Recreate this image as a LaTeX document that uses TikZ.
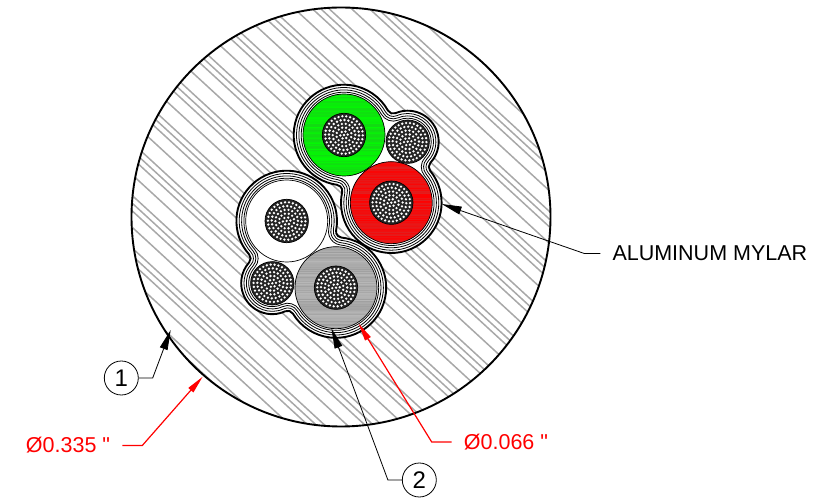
\documentclass[tikz,border=0pt]{standalone}
\usepackage{fontspec}
\newfontfamily\lblfont{Liberation Sans}
\usetikzlibrary{arrows.meta,calc}
\definecolor{hatchgray}{gray}{0.66}
\definecolor{redlead}{RGB}{255,0,0}
\definecolor{grayA}{gray}{0.72}
\definecolor{grayB}{gray}{0.62}
\definecolor{greenA}{RGB}{0,255,0}
\definecolor{greenB}{RGB}{20,215,20}
\definecolor{redA}{RGB}{255,0,0}
\definecolor{redB}{RGB}{225,30,30}
\def\DD{9.3}
\def\Rz{6}
\newcommand\mkF[7]{%
 \pgfmathsetmacro\Lc{veclen(#5-#2,#6-#3)}%
 \pgfmathsetmacro\tA{#4+\DD+\Rz}%
 \pgfmathsetmacro\tB{#7+\DD+\Rz}%
 \pgfmathsetmacro\xx{(\Lc*\Lc+\tA*\tA-\tB*\tB)/(2*\Lc)}%
 \pgfmathsetmacro\hh{sqrt(\tA*\tA-\xx*\xx)}%
 \pgfmathsetmacro\ux{(#5-#2)/\Lc}%
 \pgfmathsetmacro\uy{(#6-#3)/\Lc}%
 \pgfmathsetmacro\Fx{#2+\xx*\ux-\hh*\uy}%
 \pgfmathsetmacro\Fy{#3+\xx*\uy+\hh*\ux}%
 \pgfmathsetmacro\aone{atan2(\Fy-#3,\Fx-#2)}%
 \pgfmathsetmacro\atwo{atan2(\Fy-#6,\Fx-#5)}%
 \expandafter\xdef\csname #1first\endcsname{\aone}%
 \expandafter\xdef\csname #1second\endcsname{\atwo}%
 \pgfmathsetmacro\sd{Mod(\atwo-\aone,360)}%
 \pgfmathsetmacro\ss{\aone+180}%
 \expandafter\xdef\csname #1S\endcsname{\ss}%
 \expandafter\xdef\csname #1D\endcsname{\sd}%
}
\newcommand\setpath[1]{%
 \mkF{fab}{\ax}{\ay}{\ar}{\bx}{\by}{\br}%
 \mkF{fbc}{\bx}{\by}{\br}{\cx}{\cy}{\cr}%
 \mkF{fca}{\cx}{\cy}{\cr}{\ax}{\ay}{\ar}%
 \pgfmathsetmacro\aD{-Mod(\fcasecond-\fabfirst,360)}%
 \pgfmathsetmacro\bD{-Mod(\fabsecond-\fbcfirst,360)}%
 \pgfmathsetmacro\cD{-Mod(\fbcsecond-\fcafirst,360)}%
 \expandafter\xdef\csname P#1\endcsname##1{%
  ({\ax+(\ar+##1)*cos(\fcasecond)},{\ay+(\ar+##1)*sin(\fcasecond)})
  arc[start angle=\fcasecond,delta angle=\aD,radius={(\ar+##1)*1pt}]
  arc[start angle=\fabS,delta angle=\fabD,radius={(\Rz+\DD-##1)*1pt}]
  arc[start angle=\fabsecond,delta angle=\bD,radius={(\br+##1)*1pt}]
  arc[start angle=\fbcS,delta angle=\fbcD,radius={(\Rz+\DD-##1)*1pt}]
  arc[start angle=\fbcsecond,delta angle=\cD,radius={(\cr+##1)*1pt}]
  arc[start angle=\fcaS,delta angle=\fcaD,radius={(\Rz+\DD-##1)*1pt}]
  -- cycle}%
}
\newcommand\cablecore[2]{%
 \fill[black!85] (#1,#2) circle[radius=21.7pt];
 \draw[black,line width=0.7pt] (#1,#2) circle[radius=21.7pt];
 \fill[white] (#1,#2) circle[radius=1.3pt];
 \foreach \rr/\nn in {1/6,2/12,3/18,4/24,5/30}{%
  \pgfmathsetmacro\stepang{360/\nn}%
  \foreach \k in {1,...,\nn}{%
   \fill[white] ({#1+\rr*3.75*cos(\k*\stepang+7*\rr)},{#2+\rr*3.75*sin(\k*\stepang+7*\rr)}) circle[radius=1.3pt];
  }%
 }%
}
\newcommand\insul[4]{%
 \begin{scope}
  \clip (#1,#2) circle[radius=41pt];
  \fill[#3] (#1,#2) circle[radius=41pt];
  \foreach \yy in {-41,-40,...,41}{%
   \pgfmathtruncatemacro\mm{rnd*100}%
   \draw[line width=1pt,#3!\mm!#4] ({#1-42},{#2+\yy}) -- ({#1+42},{#2+\yy});
  }%
 \end{scope}
 \draw[black,line width=0.7pt] (#1,#2) circle[radius=41pt];
}
\newcommand\jacket[1]{%
 \fill[white] \csname P#1\endcsname{9.3};
 \draw[black,line width=1.9pt] \csname P#1\endcsname{9.3};
 \draw[black,line width=0.8pt] \csname P#1\endcsname{6.5};
 \draw[black,line width=0.8pt] \csname P#1\endcsname{4.1};
 \draw[black,line width=0.8pt] \csname P#1\endcsname{1.8};
}
\tikzset{
 lbl/.style={font=\lblfont\fontsize{21.5}{24}\selectfont,inner ysep=0pt,inner xsep=12pt},
 balloon/.style={draw=black,circle,line width=0.8pt,minimum size=34pt,inner sep=0pt,fill=white,font=\lblfont\fontsize{24}{26}\selectfont},
 blk/.style={black,line width=0.8pt,-{Triangle[length=20pt,width=8pt]}},
 redl/.style={redlead,line width=1.2pt,-{Triangle[length=18pt,width=6.5pt]}},
 hatchl/.style={hatchgray,line width=1.5pt}
}
\begin{document}
\begin{tikzpicture}[x=1pt,y=1pt]
\useasboundingbox (0,0) rectangle (825,498);
\pgfmathsetseed{11}
% outer jacket with hatch
\begin{scope}
 \clip (341,281) circle[radius=209.5pt];
 \foreach \kk in {-9,...,6}{%
  \pgfmathsetmacro\cs{0.6+52.55*\kk}%
  \pgfmathsetmacro\ct{29+52.55*\kk}%
  \foreach \cc in {\cs,\ct-7.7,\ct,\ct+7.7}{%
   \pgfmathsetmacro\cv{\cc}%
   \draw[hatchl] (100,{498-0.92*100-\cv}) -- (600,{498-0.92*600-\cv});
  }%
 }%
\end{scope}
\draw[black,line width=1.9pt] (341,281) circle[radius=209.5pt];
% top group
\def\ax{344}\def\ay{363}\def\ar{41}
\def\bx{407.7}\def\by{356.3}\def\br{21.7}
\def\cx{391.3}\def\cy{295.3}\def\cr{41}
\setpath{A}
\jacket{A}
\insul{344}{363}{greenA}{greenB}
\insul{391.3}{295.3}{redA}{redB}
\cablecore{344}{363}
\cablecore{407.7}{356.3}
\cablecore{391.3}{295.3}
% lower group
\def\ax{286.7}\def\ay{277}\def\ar{41}
\def\bx{336}\def\by{210.3}\def\br{41}
\def\cx{272.3}\def\cy{214.7}\def\cr{21.7}
\setpath{B}
\jacket{B}
\draw[black,line width=0.7pt,fill=white] (286.7,277) circle[radius=41pt];
\insul{336}{210.3}{grayA}{grayB}
\cablecore{286.7}{277}
\cablecore{336}{210.3}
\cablecore{272.3}{214.7}
% callouts
\node[balloon] (one) at (121.3,120) {1};
\node[balloon] (two) at (419.3,18) {2};
\node[lbl,text=black,anchor=west] (mylar) at (600.3,244.5) {ALUMINUM MYLAR};
\node[lbl,text=redlead,anchor=east] (dia1) at (122.3,52.5) {Ø0.335 "};
\node[lbl,text=redlead,anchor=west] (dia2) at (451.7,56) {Ø0.066 "};
\coordinate (tipone) at (170.7,168);
\coordinate (tiptwo) at (331.5,169.5);
\coordinate (tipmylar) at (441.7,294);
\coordinate (tipa) at (202.7,121.3);
\coordinate (tipb) at (358.5,174.5);
\draw[blk] (one.east) -- ++(14,0) -- (tipone);
\draw[blk] (two.west) -- ++(-14,0) -- (tiptwo);
\draw[blk] (mylar.west) -- ++(-16,0) -- (tipmylar);
\draw[redl] (dia1.east) -- ++(20,0) -- (tipa);
\draw[redl] (dia2.west) -- ++(-20,0) -- (tipb);
\end{tikzpicture}
\end{document}
